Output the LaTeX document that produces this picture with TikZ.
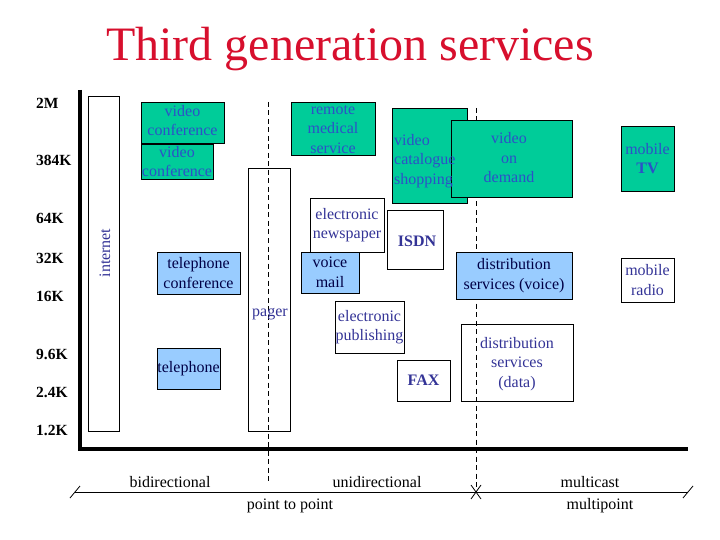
\documentclass[tikz,border=0pt]{standalone}
\usepackage{fontspec}
\setmainfont{Liberation Serif}
\usetikzlibrary{positioning}
\definecolor{tgred}{RGB}{215, 15, 45}
\definecolor{tggreen}{RGB}{0, 204, 153}
\definecolor{tgblue}{RGB}{153, 204, 255}
\definecolor{tggtext}{RGB}{45, 80, 200}
\definecolor{tgwtext}{RGB}{51, 51, 150}
\definecolor{tgbtext}{RGB}{0, 0, 70}
\newcommand{\svcfont}{\fontsize{16}{19.5}\selectfont}

\begin{document}
\begin{tikzpicture}[x=1pt, y=-1pt,
  svc/.style={draw=black, line width=0.8pt, inner sep=0pt},
  gbox/.style={svc, fill=tggreen},
  bbox/.style={svc, fill=tgblue},
  wbox/.style={svc},
  gtxt/.style={font=\svcfont, align=center, text=tggtext, inner sep=0pt},
  btxt/.style={font=\svcfont, align=center, text=tgbtext, inner sep=0pt},
  wtxt/.style={font=\svcfont, align=center, text=tgwtext, inner sep=0pt},
  rate/.style={font=\bfseries\fontsize{15.5}{18}\selectfont, anchor=west, inner sep=0pt},
  mode/.style={font=\fontsize{16}{19}\selectfont, inner sep=0pt},
  divider/.style={line width=0.9pt, dash pattern=on 5pt off 3.5pt}]

  \useasboundingbox (0,0) rectangle (720,540);

  % --- title ---
  \node[font=\fontsize{48}{56}\selectfont, text=tgred, anchor=base] (title)
    at (350,61) {Third generation services};

  % --- dividers (behind the boxes) ---
  \draw[divider] (268,102) -- (268,483);
  \draw[divider] (476,108) -- (476,492);

  % --- rate axis ---
  \draw[line width=4pt, line join=miter] (80,90) -- (80,449) -- (688,449);
  \foreach \r/\y [count=\i] in {2M/103, 384K/160, 64K/218, 32K/258,
                               16K/296, 9.6K/354, 2.4K/392, 1.2K/430}
    \node[rate] (rate\i) at (36,\y) {\r};

  % --- tall boxes ---
  \node[wbox, minimum width=31, minimum height=335] (inet) at (103.5,263.5) {};
  \node[wtxt, rotate=90] (inett) at (105,253) {internet};
  \node[wbox, minimum width=42, minimum height=263] (pager) at (269,299.5) {};
  \node[wtxt] (pagert) at (270,314) {pager};

  % --- bidirectional services ---
  \node[gbox, minimum width=83, minimum height=41] (vc1) at (182.5,122.5) {};
  \node[gtxt] (vc1t) at (182.5,120.5) {video\\conference};
  \node[gbox, minimum width=72, minimum height=35] (vc2) at (177,161.5) {};
  \node[gtxt] (vc2t) at (vc2) {video\\conference};
  \node[bbox, minimum width=83, minimum height=42] (telconf) at (198.5,273) {};
  \node[btxt] (telconft) at (telconf) {telephone\\conference};
  \node[bbox, minimum width=63, minimum height=41] (tel) at (188.5,368.5) {};
  \node[btxt] (telt) at (tel) {telephone};

  % --- unidirectional services ---
  \node[gbox, minimum width=84, minimum height=53] (remote) at (333,128.5) {};
  \node[gtxt] (remotet) at (333,129.5) {remote\\medical\\service};
  \node[wbox, minimum width=74, minimum height=54] (enews) at (347,225) {};
  \node[wtxt] (enewst) at (enews) {electronic\\newspaper};
  \node[wbox, minimum width=56, minimum height=59] (isdn) at (415,239.5) {};
  \node[wtxt, font=\svcfont\bfseries] (isdnt) at (417,241) {ISDN};
  \node[bbox, minimum width=58, minimum height=41] (vmail) at (330,272.5) {};
  \node[btxt] (vmailt) at (vmail) {voice\\mail};
  \node[wbox, minimum width=69, minimum height=52] (epub) at (369.5,327) {};
  \node[wtxt] (epubt) at (epub) {electronic\\publishing};
  \node[wbox, minimum width=53, minimum height=41] (fax) at (423.5,380.5) {};
  \node[wtxt, font=\svcfont\bfseries] (faxt) at (fax) {FAX};
  \node[gbox, minimum width=75, minimum height=95] (vcat) at (429.5,155.5) {};
  \node[gbox, minimum width=121, minimum height=77] (vod) at (511.5,158.5) {};
  \node[gtxt, align=left, anchor=west] (vcatt) at (394,161) {video\\catalogue\\shopping};
  \node[gtxt] (vodt) at (509,158) {video\\on\\demand};

  % --- multicast services ---
  \node[bbox, minimum width=116, minimum height=47] (dsv) at (514,275.5) {};
  \node[btxt] (dsvt) at (dsv) {distribution\\services (voice)};
  \node[wbox, minimum width=112, minimum height=77] (dsd) at (517,362.5) {};
  \node[wtxt] (dsdt) at (517,364) {distribution\\services\\(data)};
  \node[gbox, minimum width=53, minimum height=65] (mtv) at (647.5,158.5) {};
  \node[gtxt] (mtvt) at (mtv) {mobile\\\textbf{TV}};
  \node[wbox, minimum width=53, minimum height=44] (mradio) at (647.5,280) {};
  \node[wtxt] (mradiot) at (mradio) {mobile\\radio};

  % --- communication modes ---
  \coordinate (sleft) at (75,492);
  \coordinate (ssplit) at (476,492);
  \coordinate (sright) at (688,492);
  \draw[line width=0.8pt] (sleft) -- (sright);
  \draw[line width=0.8pt] ([shift={(-5,6)}]sleft) -- ([shift={(5,-6)}]sleft);
  \draw[line width=0.8pt] ([shift={(-5,6)}]sright) -- ([shift={(5,-6)}]sright);
  \draw[line width=0.8pt] ([shift={(-5,-7)}]ssplit) -- ([shift={(5,7)}]ssplit);
  \draw[line width=0.8pt] ([shift={(-5,7)}]ssplit) -- ([shift={(5,-7)}]ssplit);
  \node[mode] (bidir) at (170,482) {bidirectional};
  \node[mode] (unidir) at (377,482) {unidirectional};
  \node[mode] (mcast) at (590,482) {multicast};
  \node[mode] (p2p) at (290,506) {point to point};
  \node[mode] (mpoint) at (600,506) {multipoint};

\end{tikzpicture}
\end{document}
